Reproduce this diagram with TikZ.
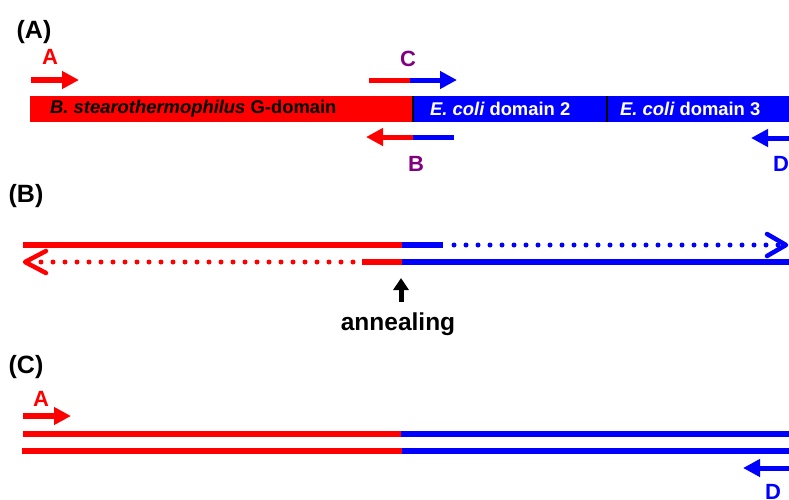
\documentclass[tikz,border=0pt]{standalone}
\usepackage{fontspec}
\setmainfont{Liberation Sans}
\usetikzlibrary{arrows.meta}
\definecolor{myred}{RGB}{255,0,0}
\definecolor{myblue}{RGB}{0,0,255}
\definecolor{mypurple}{RGB}{128,0,128}
\begin{document}
\begin{tikzpicture}[x=1pt,y=-1pt,
  panel/.style={font=\fontsize{25}{25}\selectfont\bfseries, inner sep=0, anchor=base},
  plbl/.style={font=\fontsize{22}{22}\selectfont\bfseries, inner sep=0, anchor=base},
  bartxt/.style={font=\fontsize{18.4}{18.4}\selectfont\bfseries, inner sep=0, anchor=west},
  bar/.style={inner sep=0, minimum height=26pt, anchor=west},
  strand/.style={line width=6pt},
  dots/.style={line width=5pt, line cap=round, dash pattern=on 0pt off 12pt},
  primer/.style={line width=6pt, -{Triangle[length=17pt,width=17pt]}},
  chev/.style={line width=4.5pt, line cap=round, line join=round}
]
\useasboundingbox (0,0) rectangle (789,499);

% ---------------- Panel A ----------------
\node[panel] (pA) at (34,38) {(A)};

\node[bar, fill=myred, minimum width=383pt] (gdom) at (30,109) {};
\node[bar, fill=myblue, minimum width=376pt] (ecoli) at (413,109) {};
\draw[black, line width=1.5pt] (413,96) -- (413,122);
\draw[black, line width=1.5pt] (607,96) -- (607,122);
\node[bartxt] (t1) at (50,109) {\itshape B. stearothermophilus\upshape\ G-domain};
\node[bartxt, text=white] (t2) at (430,109) {\itshape E. coli\upshape\ domain 2};
\node[bartxt, text=white] (t3) at (620,109) {\itshape E. coli\upshape\ domain 3};

% primer A
\coordinate (a1) at (31,80); \coordinate (a2) at (79,80);
\draw[primer, myred] (a1) -- (a2);
\node[plbl, text=myred] (lA) at (50,64) {A};

% primer C
\coordinate (c1) at (369,80); \coordinate (c2) at (410,80); \coordinate (c3) at (457,80);
\draw[myred, line width=5pt] (c1) -- (c2);
\draw[primer, line width=5pt, myblue] (c2) -- (c3);
\node[plbl, text=mypurple] (lC) at (408,66) {C};

% primer B
\coordinate (b1) at (454,137); \coordinate (b2) at (413,137); \coordinate (b3) at (366,137);
\draw[myblue, line width=5pt] (b1) -- (b2);
\draw[primer, line width=5pt, myred] (b2) -- (b3);
\node[plbl, text=mypurple] (lB) at (416,171) {B};

% primer D
\coordinate (d1) at (792,138); \coordinate (d2) at (751,138);
\draw[primer, line width=5pt, myblue] (d1) -- (d2);
\node[plbl, text=myblue] (lD) at (781,171) {D};

% ---------------- Panel B ----------------
\node[panel] (pB) at (26,202) {(B)};

% top strand
\coordinate (tb0) at (23,245); \coordinate (tb1) at (402,245); \coordinate (tb2) at (443,245);
\coordinate (tb3) at (454,245); \coordinate (tb4) at (783,245);
\draw[strand, myred] (tb0) -- (tb1);
\draw[strand, myblue] (tb1) -- (tb2);
\draw[dots, myblue] (tb3) -- (tb4);
\draw[chev, myblue] (767,234) -- (786,245) -- (767,256);

% bottom strand
\coordinate (bb0) at (789,262); \coordinate (bb1) at (402,262); \coordinate (bb2) at (362,262);
\coordinate (bb3) at (353,262); \coordinate (bb4) at (30,262);
\draw[strand, myblue] (bb0) -- (bb1);
\draw[strand, myred] (bb1) -- (bb2);
\draw[dots, myred] (bb3) -- (bb4);
\draw[chev, myred] (46,251) -- (25,262) -- (46,273);

% annealing arrow
\coordinate (an1) at (401,302); \coordinate (an2) at (401,278);
\draw[line width=5pt, black, -{Triangle[length=12pt,width=15pt]}] (an1) -- (an2);
\node[font=\fontsize{24.5}{24.5}\selectfont\bfseries, inner sep=0, anchor=base] (ann) at (398,330) {annealing};

% ---------------- Panel C ----------------
\node[panel] (pC) at (26,373) {(C)};

\coordinate (ca1) at (23,416); \coordinate (ca2) at (71,416);
\draw[primer, myred] (ca1) -- (ca2);
\node[plbl, text=myred] (lA2) at (41,406) {A};

\coordinate (ct0) at (23,434); \coordinate (ct1) at (401,434); \coordinate (ct2) at (789,434);
\draw[strand, myred] (ct0) -- (ct1);
\draw[strand, myblue] (ct1) -- (ct2);

\coordinate (cb0) at (22,451); \coordinate (cb1) at (402,451); \coordinate (cb2) at (789,451);
\draw[strand, myred] (cb0) -- (cb1);
\draw[strand, myblue] (cb1) -- (cb2);

\coordinate (cd1) at (792,468); \coordinate (cd2) at (743,468);
\draw[primer, line width=5pt, myblue] (cd1) -- (cd2);
\node[plbl, text=myblue] (lD2) at (773,499) {D};

\end{tikzpicture}
\end{document}
